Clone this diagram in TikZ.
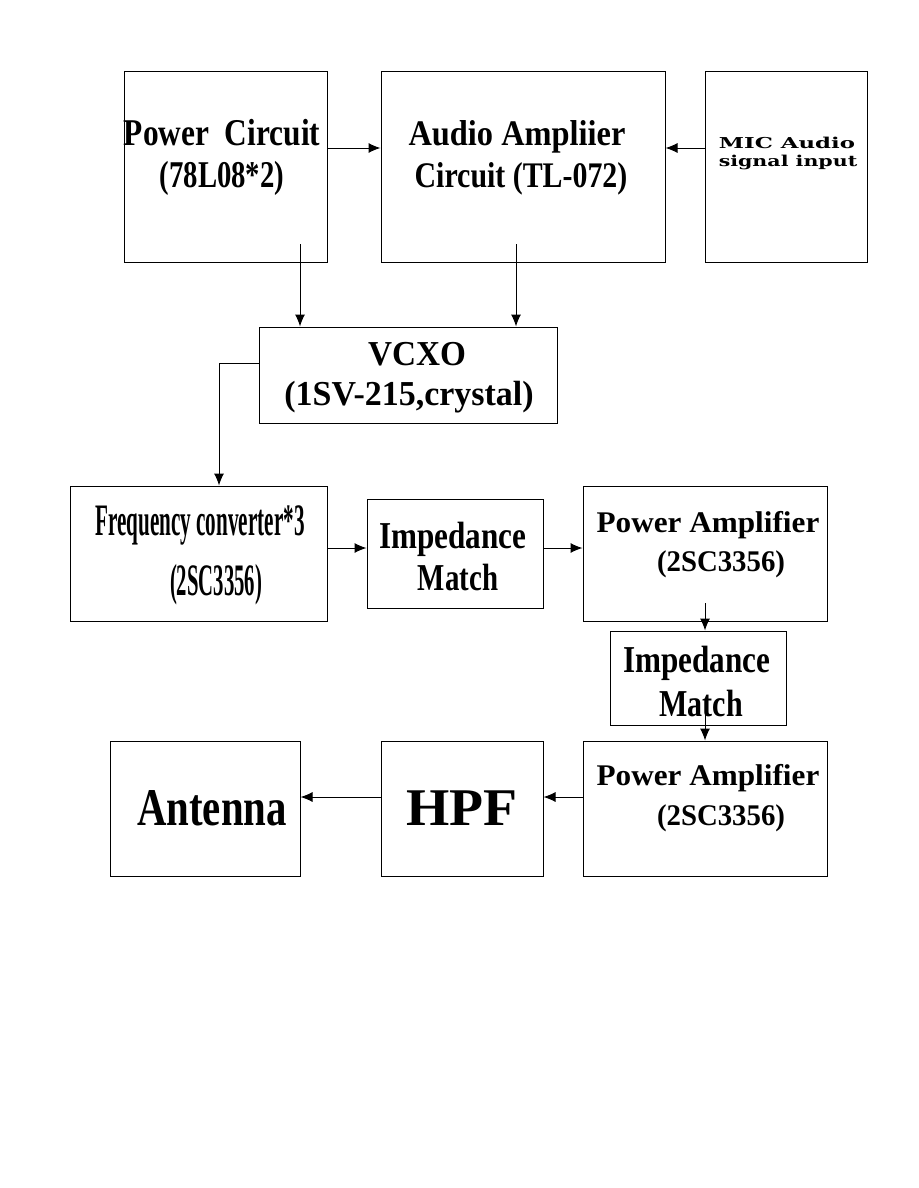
\documentclass[tikz,border=0pt]{standalone}
\usepackage{fontspec}
\setmainfont{Liberation Serif}
\newfontfamily\micfont{DejaVu Serif}
\usetikzlibrary{arrows.meta}
\newcommand\lbl[3]{\fontsize{#1}{#1}\selectfont\scalebox{#2}[1]{#3}}

\begin{document}
\begin{tikzpicture}[x=1pt,y=-1pt,line width=1pt,>={Latex[length=12pt,width=10pt]},
    blk/.style={draw,rectangle,inner sep=0pt},
    txt/.style={anchor=base,inner sep=0pt,font=\bfseries}]
  \useasboundingbox[fill=white] (0,0) rectangle (918,1188);
  % blocks
  \node[blk,minimum width=203,minimum height=190] (pwr) at (225.5,167) {};
  \node[blk,minimum width=284,minimum height=190] (aud) at (523,167) {};
  \node[blk,minimum width=162,minimum height=190] (mic) at (786,167) {};
  \node[blk,minimum width=298,minimum height=96] (vcxo) at (408,375) {};
  \node[blk,minimum width=257,minimum height=135] (frq) at (198.5,553.5) {};
  \node[blk,minimum width=176,minimum height=109] (imp1) at (455,553.5) {};
  \node[blk,minimum width=244,minimum height=135] (pa1) at (705,553.5) {};
  \node[blk,minimum width=176,minimum height=94] (imp2) at (698,678) {};
  \node[blk,minimum width=244,minimum height=135] (pa2) at (705,808.5) {};
  \node[blk,minimum width=162,minimum height=135] (hpf) at (462,808.5) {};
  \node[blk,minimum width=190,minimum height=135] (ant) at (205,808.5) {};
  % texts
  \node[txt] (pwrA) at (222,146) {\lbl{37.8}{0.83}{Power\ \ Circuit}};
  \node[txt] (pwrB) at (222,187) {\lbl{37.8}{0.76}{(78L08*2)}};
  \node[txt] (audA) at (517,146) {\lbl{36}{0.90}{Audio Ampliier}};
  \node[txt] (audB) at (521,187) {\lbl{36}{0.83}{Circuit (TL-072)}};
  \node[txt] (micA) at (787,149) {\micfont\lbl{15}{1.52}{MIC Audio}};
  \node[txt] (micB) at (788,166) {\micfont\lbl{15}{1.37}{signal input}};
  \node[txt] (vcxoA) at (417,365) {\lbl{35}{0.95}{VCXO}};
  \node[txt] (vcxoB) at (409,405) {\lbl{35}{0.97}{(1SV-215,crystal)}};
  \node[txt] (frqA) at (200,535) {\lbl{45}{0.47}{Frequency converter*3}};
  \node[txt] (frqB) at (216,595) {\lbl{45}{0.46}{(2SC3356)}};
  \node[txt] (imp1A) at (453,548) {\lbl{38}{0.82}{Impedance}};
  \node[txt] (imp1B) at (458,590) {\lbl{38}{0.76}{Match}};
  \node[txt] (pa1A) at (708,532) {\lbl{30}{1.04}{Power Amplifier}};
  \node[txt] (pa1B) at (721,571) {\lbl{30}{0.96}{(2SC3356)}};
  \node[txt] (imp2A) at (697,672) {\lbl{38}{0.82}{Impedance}};
  \node[txt] (imp2B) at (701,716) {\lbl{38}{0.79}{Match}};
  \node[txt] (pa2A) at (708,785) {\lbl{30}{1.04}{Power Amplifier}};
  \node[txt] (pa2B) at (721,825) {\lbl{30}{0.96}{(2SC3356)}};
  \node[txt] (hpfA) at (462,825) {\lbl{53}{1.05}{HPF}};
  \node[txt] (antA) at (212,825) {\lbl{53}{0.77}{Antenna}};
  % connectors
  \coordinate (pwrout) at (300,244);
  \coordinate (audout) at (516,244);
  \coordinate (paout) at (705,603);
  \coordinate (impout) at (705,700);
  \draw[->] ([yshift=19pt]pwr.east) -- ([yshift=19pt]aud.west);
  \draw[->] ([yshift=19pt]mic.west) -- ([yshift=19pt]aud.east);
  \draw[->] (pwrout) -- (pwrout |- vcxo.north);
  \draw[->] (audout) -- (audout |- vcxo.north);
  \draw[->] ([yshift=12pt]vcxo.west) -| ([xshift=20.5pt]frq.north);
  \draw[->] ([yshift=5.5pt]frq.east) -- ([yshift=5.5pt]frq.east -| imp1.west);
  \draw[->] ([yshift=5.5pt]imp1.east) -- ([yshift=5.5pt]imp1.east -| pa1.west);
  \draw[->] (paout) -- (paout |- imp2.north);
  \draw[->] (impout) -- (impout |- pa2.north);
  \draw[->] ([yshift=11.5pt]pa2.west) -- ([yshift=11.5pt]hpf.east);
  \draw[->] ([yshift=11.5pt]hpf.west) -- ([yshift=11.5pt]ant.east);
\end{tikzpicture}
\end{document}
